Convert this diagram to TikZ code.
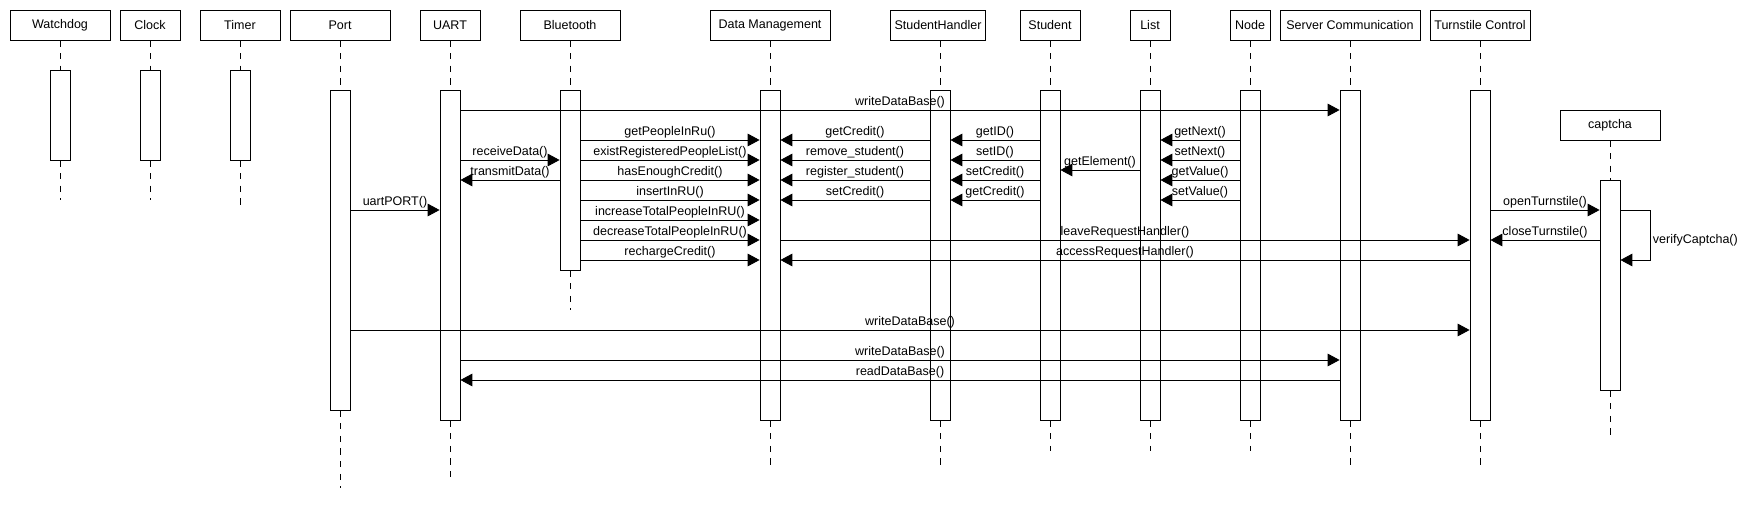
\documentclass[tikz,border=0pt]{standalone}
\usepackage{fontspec}
\setmainfont{Liberation Sans}
\usepackage{tikz}
\usetikzlibrary{arrows.meta}

\begin{document}
\begin{tikzpicture}[x=0.025cm, y=-0.025cm, font=\fontsize{8.9}{10.5}\selectfont,
  head/.style={draw, fill=white, line width=0.6pt, minimum height=0.75cm, inner sep=0pt},
  act/.style={draw, fill=white, line width=0.6pt, minimum width=0.5cm, inner sep=0pt},
  life/.style={line width=0.6pt, dash pattern=on 4.5pt off 4.5pt},
  msg/.style={line width=0.6pt, -{Triangle[length=8.5pt,width=9pt]}},
  lbl/.style={above, inner sep=1.2pt}]
\fill[white] (0,0) rectangle (1760,520);
\useasboundingbox (0,0) rectangle (1760,520);

% heads
\node[head, minimum width=2.5cm] (wd) at (60,25) {Watchdog};
\node[head, minimum width=1.5cm] (clk) at (150,25) {Clock};
\node[head, minimum width=2cm] (tmr) at (240,25) {Timer};
\node[head, minimum width=2.5cm] (port) at (340,25) {Port};
\node[head, minimum width=1.5cm] (uart) at (450,25) {UART};
\node[head, minimum width=2.5cm] (bt) at (570,25) {Bluetooth};
\node[head, minimum width=3cm] (dm) at (770,25) {Data Management};
\node[head, minimum width=2.375cm] (sh) at (938,25) {StudentHandler};
\node[head, minimum width=1.5cm] (st) at (1050,25) {Student};
\node[head, minimum width=1cm] (lst) at (1150,25) {List};
\node[head, minimum width=1cm] (nd) at (1250,25) {Node};
\node[head, minimum width=3.5cm] (srv) at (1350,25) {Server Communication};
\node[head, minimum width=2.5cm] (ts) at (1480,25) {Turnstile Control};
\node[head, minimum width=2.5cm] (cap) at (1610,125) {captcha};

% activations
\node[act, minimum height=2.25cm] (wdA) at (60,115) {};
\node[act, minimum height=2.25cm] (clkA) at (150,115) {};
\node[act, minimum height=2.25cm] (tmrA) at (240,115) {};
\node[act, minimum height=8cm] (portA) at (340,250) {};
\node[act, minimum height=8.25cm] (uartA) at (450,255) {};
\node[act, minimum height=4.5cm] (btA) at (570,180) {};
\node[act, minimum height=8.25cm] (dmA) at (770,255) {};
\node[act, minimum height=8.25cm] (shA) at (940,255) {};
\node[act, minimum height=8.25cm] (stA) at (1050,255) {};
\node[act, minimum height=8.25cm] (lstA) at (1150,255) {};
\node[act, minimum height=8.25cm] (ndA) at (1250,255) {};
\node[act, minimum height=8.25cm] (srvA) at (1350,255) {};
\node[act, minimum height=8.25cm] (tsA) at (1480,255) {};
\node[act, minimum height=5.25cm] (capA) at (1610,285) {};

% lifelines
\draw[life] (wd.south) -- (wdA.north) (wdA.south) -- (wdA.south |- 0,200);
\draw[life] (clk.south) -- (clkA.north) (clkA.south) -- (clkA.south |- 0,200);
\draw[life] (tmr.south) -- (tmrA.north) (tmrA.south) -- (tmrA.south |- 0,211);
\draw[life] (port.south) -- (portA.north) (portA.south) -- (portA.south |- 0,488);
\draw[life] (uart.south) -- (uartA.north) (uartA.south) -- (uartA.south |- 0,480);
\draw[life] (bt.south) -- (btA.north) (btA.south) -- (btA.south |- 0,310);
\draw[life] (dm.south) -- (dmA.north) (dmA.south) -- (dmA.south |- 0,470);
\draw[life] (sh.south -| shA.north) -- (shA.north) (shA.south) -- (shA.south |- 0,470);
\draw[life] (st.south) -- (stA.north) (stA.south) -- (stA.south |- 0,451);
\draw[life] (lst.south) -- (lstA.north) (lstA.south) -- (lstA.south |- 0,451);
\draw[life] (nd.south) -- (ndA.north) (ndA.south) -- (ndA.south |- 0,451);
\draw[life] (srv.south) -- (srvA.north) (srvA.south) -- (srvA.south |- 0,470);
\draw[life] (ts.south) -- (tsA.north) (tsA.south) -- (tsA.south |- 0,470);
\draw[life] (cap.south) -- (capA.north) (capA.south) -- (capA.south |- 0,440);

% messages
\draw[msg] (uartA.east |- 0,110) -- node[lbl]{writeDataBase()} (srvA.west |- 0,110);

\draw[msg] (btA.east |- 0,140) -- node[lbl]{getPeopleInRu()} (dmA.west |- 0,140);
\draw[msg] (btA.east |- 0,160) -- node[lbl]{existRegisteredPeopleList()} (dmA.west |- 0,160);
\draw[msg] (btA.east |- 0,180) -- node[lbl]{hasEnoughCredit()} (dmA.west |- 0,180);
\draw[msg] (btA.east |- 0,200) -- node[lbl]{insertInRU()} (dmA.west |- 0,200);
\draw[msg] (btA.east |- 0,220) -- node[lbl]{increaseTotalPeopleInRU()} (dmA.west |- 0,220);
\draw[msg] (btA.east |- 0,240) -- node[lbl]{decreaseTotalPeopleInRU()} (dmA.west |- 0,240);
\draw[msg] (btA.east |- 0,260) -- node[lbl]{rechargeCredit()} (dmA.west |- 0,260);

\draw[msg] (shA.west |- 0,140) -- node[lbl]{getCredit()} (dmA.east |- 0,140);
\draw[msg] (shA.west |- 0,160) -- node[lbl]{remove\_student()} (dmA.east |- 0,160);
\draw[msg] (shA.west |- 0,180) -- node[lbl]{register\_student()} (dmA.east |- 0,180);
\draw[msg] (shA.west |- 0,200) -- node[lbl]{setCredit()} (dmA.east |- 0,200);

\draw[msg] (stA.west |- 0,140) -- node[lbl]{getID()} (shA.east |- 0,140);
\draw[msg] (stA.west |- 0,160) -- node[lbl]{setID()} (shA.east |- 0,160);
\draw[msg] (stA.west |- 0,180) -- node[lbl]{setCredit()} (shA.east |- 0,180);
\draw[msg] (stA.west |- 0,200) -- node[lbl]{getCredit()} (shA.east |- 0,200);

\draw[msg] (lstA.west |- 0,170) -- node[lbl]{getElement()} (stA.east |- 0,170);

\draw[msg] (ndA.west |- 0,140) -- node[lbl]{getNext()} (lstA.east |- 0,140);
\draw[msg] (ndA.west |- 0,160) -- node[lbl]{setNext()} (lstA.east |- 0,160);
\draw[msg] (ndA.west |- 0,180) -- node[lbl]{getValue()} (lstA.east |- 0,180);
\draw[msg] (ndA.west |- 0,200) -- node[lbl]{setValue()} (lstA.east |- 0,200);

\draw[msg] (uartA.east |- 0,160) -- node[lbl]{receiveData()} (btA.west |- 0,160);
\draw[msg] (btA.west |- 0,180) -- node[lbl]{transmitData()} (uartA.east |- 0,180);
\draw[msg] (portA.east |- 0,210) -- node[lbl]{uartPORT()} (uartA.west |- 0,210);

\draw[msg] (tsA.east |- 0,210) -- node[lbl]{openTurnstile()} (capA.west |- 0,210);
\draw[msg] (capA.west |- 0,240) -- node[lbl]{closeTurnstile()} (tsA.east |- 0,240);
\draw[msg] (capA.east |- 0,210) -- ++(30,0) |- node[pos=0.3, right, inner sep=1.5pt]{verifyCaptcha()} (capA.east |- 0,260);

\draw[msg] (dmA.east |- 0,240) -- node[lbl]{leaveRequestHandler()} (tsA.west |- 0,240);
\draw[msg] (tsA.west |- 0,260) -- node[lbl]{accessRequestHandler()} (dmA.east |- 0,260);

\draw[msg] (portA.east |- 0,330) -- node[lbl]{writeDataBase()} (tsA.west |- 0,330);
\draw[msg] (uartA.east |- 0,360) -- node[lbl]{writeDataBase()} (srvA.west |- 0,360);
\draw[msg] (srvA.west |- 0,380) -- node[lbl]{readDataBase()} (uartA.east |- 0,380);

\end{tikzpicture}
\end{document}
